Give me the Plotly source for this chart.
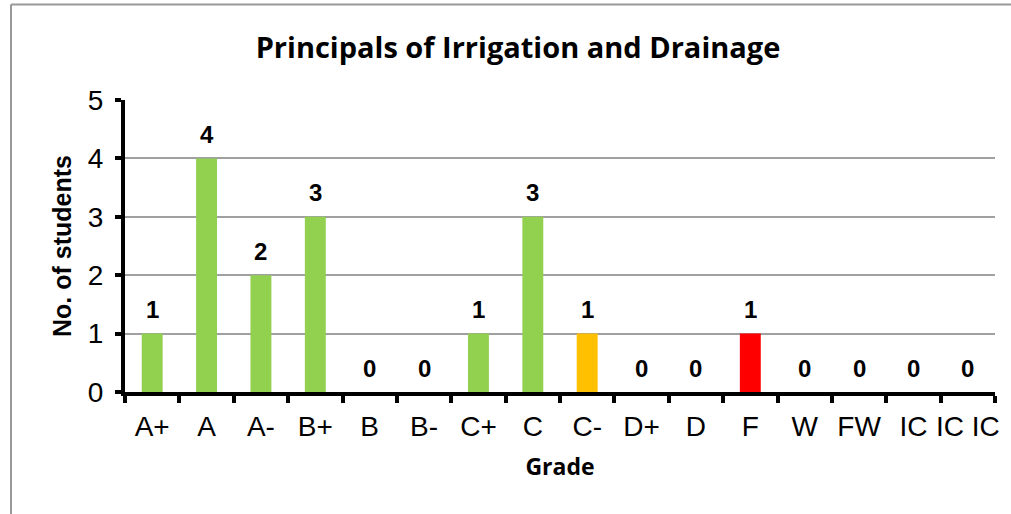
import plotly.graph_objects as go

grades = ["A+", "A", "A-", "B+", "B", "B-", "C+", "C", "C-", "D+", "D", "F", "W", "FW", "IC", "IC IC"]
students = [1, 4, 2, 3, 0, 0, 1, 3, 1, 0, 0, 1, 0, 0, 0, 0]
bar_colors = ["#92D050"] * 8 + ["#FFC000", "#92D050", "#92D050", "#FF0000"] + ["#92D050"] * 4

L, R, T, B = 125, 16, 100, 122
W, H = 1011, 514
PW, PH = W - L - R, H - T - B

fig = go.Figure()
fig.add_trace(go.Bar(
    x=grades, y=students, marker=dict(color=bar_colors, line=dict(width=0)),
    width=0.385, showlegend=False, hoverinfo="skip",
))

annotations = [
    dict(x=g, y=v, xref="x", yref="y", text=f"<b>{v}</b>", showarrow=False,
         yanchor="middle", xanchor="center", yshift=24,
         font=dict(family="Liberation Sans, Arial", size=24, color="black"))
    for g, v in zip(grades, students)
]

fig.update_layout(
    width=W, height=H,
    margin=dict(l=L, r=R, t=T, b=B),
    paper_bgcolor="white", plot_bgcolor="white",
    title=dict(text="<b>Principals of Irrigation and Drainage</b>",
               x=(518 - L) / PW, xanchor="center", xref="paper",
               y=1 - 48 / H, yanchor="middle",
               font=dict(family="Open Sans, Lato, sans-serif", size=29, color="black")),
    annotations=annotations,
    shapes=[
        dict(type="line", xref="paper", yref="paper", x0=(11 - L) / PW, x1=(W + 5 - L) / PW,
             y0=1 + (T - 4.5) / PH, y1=1 + (T - 4.5) / PH, line=dict(color="#999999", width=2)),
        dict(type="line", xref="paper", yref="paper", x0=(11 - L) / PW, x1=(11 - L) / PW,
             y0=1 + (T - 4.5) / PH, y1=-(B + 5) / PH, line=dict(color="#999999", width=2)),
    ],
)

fig.update_xaxes(
    type="category", tickson="boundaries", ticks="outside", ticklen=7, tickwidth=4,
    tickcolor="black", showline=True, linecolor="black", linewidth=4, tickangle=0,
    ticklabelstandoff=6,
    tickfont=dict(family="Liberation Sans, Arial", size=28, color="black"),
    title=dict(text="<b>Grade</b>", standoff=19,
               font=dict(family="Open Sans, Lato, sans-serif", size=23, color="black")),
    showgrid=False, zeroline=False, range=[-0.5, 15.5], automargin=False,
)
fig.update_yaxes(
    range=[0, 5], dtick=1, ticks="outside", ticklen=6, tickwidth=4, tickcolor="black",
    showline=True, linecolor="black", linewidth=4, ticklabelstandoff=6,
    showgrid=True, gridcolor="#A0A0A0", gridwidth=1.5, zeroline=False,
    tickfont=dict(family="Liberation Sans, Arial", size=28, color="black"),
    title=dict(text="<b>No. of students</b>", standoff=10,
               font=dict(family="Liberation Sans, Arial", size=25, color="black")),
    automargin=False,
)

fig.write_html("out.html", config={"displayModeBar": False},
               post_script="document.body.style.margin='0';")
